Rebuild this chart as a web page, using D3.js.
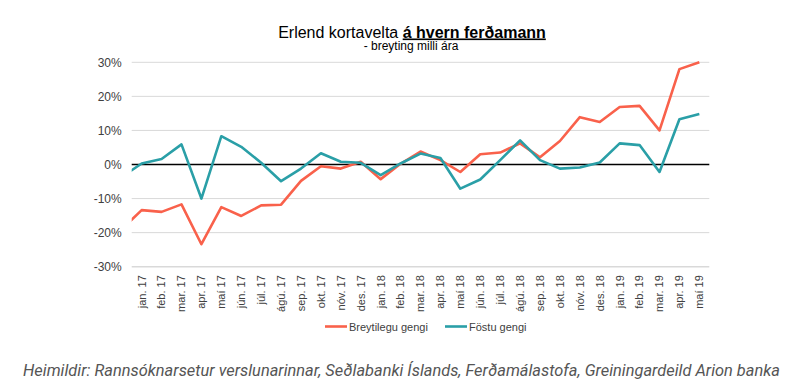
<!DOCTYPE html>
<html>
<head>
<meta charset="utf-8">
<script src="https://cdn.jsdelivr.net/npm/d3@7"></script>
<style>
  html, body { margin: 0; padding: 0; background: #fff; }
  svg { display: block; font-family: "Liberation Sans", Arial, sans-serif; }
</style>
</head>
<body>
<svg id="chart" width="800" height="392"></svg>
<script>
// ---- data ----
const categories = ["jan. 17","feb. 17","mar. 17","apr. 17","maí 17","jún. 17","júl. 17","ágú. 17","sep. 17","okt. 17","nóv. 17","des. 17",
  "jan. 18","feb. 18","mar. 18","apr. 18","maí 18","jún. 18","júl. 18","ágú. 18","sep. 18","okt. 18","nóv. 18","des. 18",
  "jan. 19","feb. 19","mar. 19","apr. 19","maí 19"];
const breytilegu = [-13.4,-13.9,-11.7,-23.4,-12.5,-15.1,-12.0,-11.8,-4.8,-0.5,-1.2,0.8,
  -4.3,0.2,3.8,1.3,-2.2,3.0,3.5,6.2,2.1,6.9,13.9,12.5,16.9,17.2,10.0,28.0,30.0];
const fostu = [0.3,1.6,5.9,-10.0,8.3,5.2,0.5,-4.9,-1.2,3.3,0.8,0.5,
  -3.1,0.3,3.2,1.9,-7.1,-4.4,1.3,7.1,1.3,-1.2,-0.9,0.6,6.2,5.7,-2.2,13.3,14.8];
// previous month (des. 16), only visible as a clipped lead-in at the left edge
const leadIn = { breytilegu: -19.0, fostu: -3.7 };
const yTicks = [-30,-20,-10,0,10,20,30];
const seriesNames = ["Breytilegu gengi","Föstu gengi"];
const colors = ["#F9614B","#2A9FA7"];

// ---- layout ----
const svg = d3.select("#chart");
const pLeft = 131.7, pRight = 709.3, pTop = 62.3, pBottom = 266.7;

const x = d3.scaleBand().domain(categories).range([pLeft, pRight]).padding(0);
const cx = c => x(c) + x.bandwidth() / 2;
const y = d3.scaleLinear().domain([-30, 30]).range([pBottom, pTop]);

svg.append("defs").append("clipPath").attr("id","plotclip")
  .append("rect").attr("x", pLeft).attr("y", 0).attr("width", pRight - pLeft).attr("height", 392);

// gridlines
svg.append("g").selectAll("line").data(yTicks.filter(d => d !== 0)).join("line")
  .attr("x1", pLeft).attr("x2", pRight)
  .attr("y1", d => y(d)).attr("y2", d => y(d))
  .attr("stroke", "#d9d9d9").attr("stroke-width", d => d === -30 ? 1.6 : 1);

// y axis labels
const yAxis = svg.append("g").attr("transform", `translate(${pLeft},0)`)
  .call(d3.axisLeft(y).tickValues(yTicks).tickSize(0).tickPadding(10).tickFormat(d => d + "%"));
yAxis.select(".domain").remove();
yAxis.selectAll("text").attr("font-size", 12).attr("fill", "#404040")
  .attr("font-family", "'Liberation Sans', Arial, sans-serif");

// x axis labels
const xAxis = svg.append("g").attr("transform", `translate(0,${pBottom})`)
  .call(d3.axisBottom(x).tickSize(0));
xAxis.select(".domain").remove();
xAxis.selectAll("text")
  .attr("transform", "rotate(-90)")
  .attr("x", -8.5).attr("y", 0).attr("dy", "0.35em")
  .attr("text-anchor", "end")
  .attr("font-size", 11).attr("fill", "#404040")
  .attr("font-family", "'Liberation Sans', Arial, sans-serif");

// zero line
svg.append("line").attr("x1", pLeft).attr("x2", pRight)
  .attr("y1", y(0)).attr("y2", y(0)).attr("stroke", "#000").attr("stroke-width", 1.5);

// lines
const step = x.step();
function pts(vals, lead) {
  const p = [[cx(categories[0]) - step, lead]];
  vals.forEach((v, i) => p.push([cx(categories[i]), v]));
  return p;
}
const line = d3.line().x(d => d[0]).y(d => y(d[1]));
const plot = svg.append("g").attr("clip-path", "url(#plotclip)");
plot.append("path").datum(pts(breytilegu, leadIn.breytilegu)).attr("d", line)
  .attr("fill", "none").attr("stroke", colors[0]).attr("stroke-width", 2.6).attr("stroke-linejoin", "round");
plot.append("path").datum(pts(fostu, leadIn.fostu)).attr("d", line)
  .attr("fill", "none").attr("stroke", colors[1]).attr("stroke-width", 2.6).attr("stroke-linejoin", "round");

// title
const title = svg.append("text").attr("x", 412).attr("y", 37.5).attr("text-anchor", "middle")
  .attr("font-size", 16).attr("fill", "#000");
title.append("tspan").text("Erlend kortavelta ");
title.append("tspan").attr("font-weight", "bold").attr("text-decoration", "underline").text("á hvern ferðamann");
svg.append("text").attr("x", 411).attr("y", 50).attr("text-anchor", "middle")
  .attr("font-size", 12).attr("fill", "#000").text("- breyting milli ára");

// legend
const legX = [325, 445];
seriesNames.forEach((n, i) => {
  svg.append("line").attr("x1", legX[i]).attr("x2", legX[i] + 22)
    .attr("y1", 326.5).attr("y2", 326.5).attr("stroke", colors[i]).attr("stroke-width", 2.6);
  svg.append("text").attr("x", legX[i] + 24).attr("y", 330.5)
    .attr("font-size", 11).attr("fill", "#404040").text(n);
});

// source
svg.append("text").attr("x", 23).attr("y", 376)
  .attr("font-family", "Roboto, 'Open Sans', sans-serif").attr("font-style", "italic")
  .attr("font-size", 16.4).attr("fill", "#555")
  .text("Heimildir: Rannsóknarsetur verslunarinnar, Seðlabanki Íslands, Ferðamálastofa, Greiningardeild Arion banka");
</script>
</body>
</html>
